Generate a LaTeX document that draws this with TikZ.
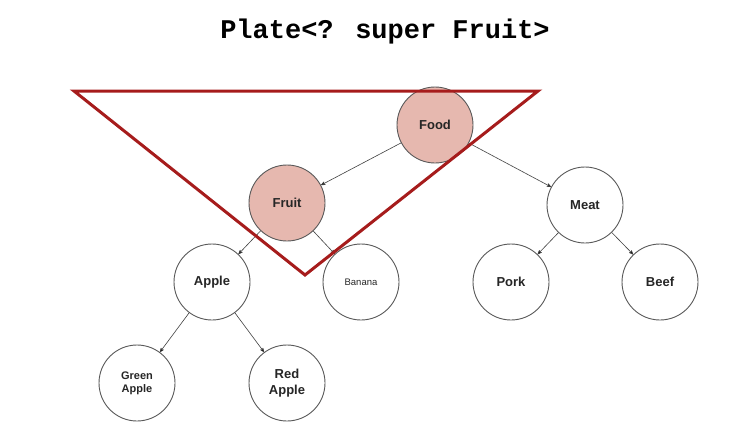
\documentclass[tikz,border=0pt]{standalone}
\usepackage{fontspec}
\setmainfont{Liberation Sans}
\newfontfamily\codefont{Liberation Mono}
\usepackage{xcolor}
\usetikzlibrary{arrows,positioning}
\definecolor{nodeline}{HTML}{595959}
\definecolor{pickfill}{HTML}{E6B8AF}
\definecolor{boundred}{HTML}{A61C1C}
\tikzset{>=stealth'}
\tikzset{type node/.style={circle,draw=nodeline,line width=0.9pt,fill=white,minimum size=76pt,inner sep=0pt,
              text=black!85,font=\bfseries\fontsize{13}{16}\selectfont,align=center},
         picked node/.style={type node,fill=pickfill},
            }

\begin{document}
\begin{tikzpicture}[x=1pt,y=-1pt,node distance=80pt,on grid]

    \useasboundingbox (0,0) rectangle (735,431);

    \node[font=\codefont\bfseries\fontsize{27}{30}\selectfont] (title) at (385,32) {Plate<? super Fruit>};

    \node[picked node] (food) at (435,125) {Food};
    \node[picked node] (fruit) [below left = 78pt and 148pt of food] {Fruit};
    \node[type node] (meat) [below right = 80pt and 150pt of food] {Meat};
    \node[type node] (apple) [below left = 79pt and 75pt of fruit] {Apple};
    \node[type node,font=\fontsize{9.5}{11}\selectfont] (banana) [below right = 79pt and 74pt of fruit] {Banana};
    \node[type node] (pork) [below left = 77pt and 74pt of meat] {Pork};
    \node[type node] (beef) [below right = 77pt and 75pt of meat] {Beef};
    \node[type node,font=\bfseries\fontsize{11}{13}\selectfont] (green) [below left = 101pt and 75pt of apple] {Green\\Apple};
    \node[type node] (red) [below right = 101pt and 75pt of apple] {Red\\Apple};

    \path[draw,->,draw=black!75,line width=0.6pt]
    (food) edge node {} (fruit)
    (food) edge node {} (meat)
    (fruit) edge node {} (apple)
    (fruit) edge node {} (banana)
    (meat) edge node {} (pork)
    (meat) edge node {} (beef)
    (apple) edge node {} (green)
    (apple) edge node {} (red);

    % bound of ? super Fruit
    \draw[boundred,line width=3pt,line join=miter] (74,91) -- (538,91) -- (305,275) -- cycle;

\end{tikzpicture}
\end{document}
